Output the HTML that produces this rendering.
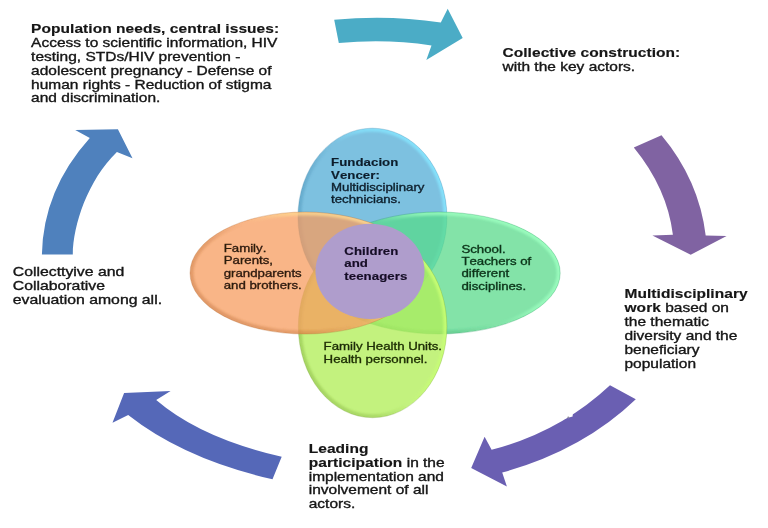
<!DOCTYPE html>
<html lang="en">
<head>
<meta charset="utf-8">
<title>Collective construction cycle</title>
<style>
html,body{margin:0;padding:0;background:#fff;}
body{width:768px;height:528px;overflow:hidden;position:relative;font-family:"Liberation Sans",sans-serif;}
svg{position:absolute;left:0;top:0;display:block;}
text{font-family:"Liberation Sans",sans-serif;fill:inherit;stroke:inherit;stroke-width:0.32px;paint-order:stroke;font-kerning:none;}
.b{font-weight:bold;stroke-width:0.15px;letter-spacing:0.04px;}
.o{font-size:12.0px;}
.i{font-size:10.27px;}
</style>
</head>
<body>
<svg width="768" height="528" viewBox="0 0 768 528">
<rect width="768" height="528" fill="#ffffff"/>
<defs>
<filter id="tb" x="0" y="0" width="100%" height="100%" filterUnits="userSpaceOnUse"><feGaussianBlur stdDeviation="0.45"/></filter>
<filter id="ab" x="0" y="0" width="100%" height="100%" filterUnits="userSpaceOnUse"><feGaussianBlur stdDeviation="0.4"/></filter>
<filter id="bl" x="-10%" y="-10%" width="120%" height="120%"><feGaussianBlur stdDeviation="1.2"/></filter>
<linearGradient id="gB" x1="1" y1="0.2" x2="0" y2="0.8"><stop offset="0" stop-color="#86e6ff" stop-opacity="0.9"/><stop offset="0.34" stop-color="#86e6ff" stop-opacity="0.7"/><stop offset="0.5" stop-color="#86e6ff" stop-opacity="0"/><stop offset="0.52" stop-color="#3f86ad" stop-opacity="0"/><stop offset="0.7" stop-color="#3f86ad" stop-opacity="0.3"/><stop offset="1" stop-color="#3f86ad" stop-opacity="0.4"/></linearGradient>
<clipPath id="cB"><ellipse cx="372.4" cy="217" rx="74.5" ry="88.8"/></clipPath>
<linearGradient id="gG" x1="1" y1="0.2" x2="0" y2="0.8"><stop offset="0" stop-color="#9dffc0" stop-opacity="0.9"/><stop offset="0.34" stop-color="#9dffc0" stop-opacity="0.7"/><stop offset="0.5" stop-color="#9dffc0" stop-opacity="0"/><stop offset="0.52" stop-color="#2a9c60" stop-opacity="0"/><stop offset="0.7" stop-color="#2a9c60" stop-opacity="0.3"/><stop offset="1" stop-color="#2a9c60" stop-opacity="0.4"/></linearGradient>
<clipPath id="cG"><ellipse cx="438.5" cy="273" rx="121.7" ry="61"/></clipPath>
<linearGradient id="gL" x1="1" y1="0.2" x2="0" y2="0.8"><stop offset="0" stop-color="#c8ff74" stop-opacity="0.9"/><stop offset="0.34" stop-color="#c8ff74" stop-opacity="0.7"/><stop offset="0.5" stop-color="#c8ff74" stop-opacity="0"/><stop offset="0.52" stop-color="#76a634" stop-opacity="0"/><stop offset="0.7" stop-color="#76a634" stop-opacity="0.3"/><stop offset="1" stop-color="#76a634" stop-opacity="0.4"/></linearGradient>
<clipPath id="cL"><ellipse cx="372.6" cy="326.5" rx="74.3" ry="91.2"/></clipPath>
<linearGradient id="gO" x1="1" y1="0.2" x2="0" y2="0.8"><stop offset="0" stop-color="#ffd890" stop-opacity="0.9"/><stop offset="0.34" stop-color="#ffd890" stop-opacity="0.7"/><stop offset="0.5" stop-color="#ffd890" stop-opacity="0"/><stop offset="0.52" stop-color="#b96a30" stop-opacity="0"/><stop offset="0.7" stop-color="#b96a30" stop-opacity="0.3"/><stop offset="1" stop-color="#b96a30" stop-opacity="0.4"/></linearGradient>
<clipPath id="cO"><ellipse cx="305.1" cy="273.0" rx="115.1" ry="61.0"/></clipPath>
</defs>

<!-- cycle arrows -->
<g id="arrows" filter="url(#ab)">
<path fill="#4bacc6" d="M334.2 19.8 Q388 14.5 440.8 22.5 L447.7 8.8 L462.7 38.1 L426.3 60 L431.5 45.4 Q385 38.5 338.8 43.1 Z"/>
<path fill="#8064a2" d="M633.8 147.5 L661.5 135.2 Q699 180 705.7 235.6 L726.6 236 L690.7 254.8 L652.4 235.6 L672.9 234.7 Q667 188 633.8 147.5 Z"/>
<path fill="#6a5fb2" d="M610 385.2 L635.8 399.2 Q583 450 502.2 472.6 L506.9 486.6 L471.2 467.9 L484.6 436.7 L491.6 449.8 Q560 432 610 385.2 Z"/>
<path fill="#5568b8" d="M281.7 456.8 L272.5 479.3 Q184 459 128.2 415 L112.5 422.8 L124.1 393 L170.6 390.9 L156.2 400.1 Q201 438.5 281.7 456.8 Z"/>
<path fill="#4f81bd" d="M41.9 254.6 L72.8 254.6 C73 225 88 180 116.9 152.1 L132.5 158.3 L117.9 129.2 L75.2 130 L89.8 137.9 Q43 190 41.9 254.6 Z"/>
<path fill="#ffffff" d="M572.8 413.2 L572.6 416.4 L565.5 418.6 L563 419.2 Z"/>
<circle cx="568.3" cy="417.6" r="1" fill="#8c8aa0"/>
</g>

<!-- venn diagram -->
<g id="venn" filter="url(#ab)">
<g clip-path="url(#cB)">
<ellipse cx="372.4" cy="217" rx="74.5" ry="88.8" fill="#7dc1e0"/>
<ellipse cx="372.4" cy="217" rx="74.5" ry="88.8" fill="none" stroke="url(#gB)" stroke-width="7" filter="url(#bl)"/>
</g>
<ellipse cx="372.4" cy="217" rx="74.5" ry="88.8" fill="none" stroke="#3f86ad" stroke-opacity="0.35" stroke-width="0.9"/>
<g clip-path="url(#cG)">
<ellipse cx="438.5" cy="273" rx="121.7" ry="61" fill="#58da8b" fill-opacity="0.75"/>
<ellipse cx="438.5" cy="273" rx="121.7" ry="61" fill="none" stroke="url(#gG)" stroke-width="7" filter="url(#bl)"/>
</g>
<ellipse cx="438.5" cy="273" rx="121.7" ry="61" fill="none" stroke="#2a9c60" stroke-opacity="0.35" stroke-width="0.9"/>
<g clip-path="url(#cL)">
<ellipse cx="372.6" cy="326.5" rx="74.3" ry="91.2" fill="#b2ee5a" fill-opacity="0.78"/>
<ellipse cx="372.6" cy="326.5" rx="74.3" ry="91.2" fill="none" stroke="url(#gL)" stroke-width="7" filter="url(#bl)"/>
</g>
<ellipse cx="372.6" cy="326.5" rx="74.3" ry="91.2" fill="none" stroke="#76a634" stroke-opacity="0.35" stroke-width="0.9"/>
<g clip-path="url(#cO)">
<ellipse cx="305.1" cy="273.0" rx="115.1" ry="61.0" fill="#f79c5f" fill-opacity="0.75"/>
<ellipse cx="305.1" cy="273.0" rx="115.1" ry="61.0" fill="none" stroke="url(#gO)" stroke-width="7" filter="url(#bl)"/>
</g>
<ellipse cx="305.1" cy="273.0" rx="115.1" ry="61.0" fill="none" stroke="#b96a30" stroke-opacity="0.35" stroke-width="0.9"/>
<ellipse cx="370" cy="271.3" rx="54.5" ry="47.6" fill="#af9dcc"/>
</g>

<!-- labels -->
<g id="labels" filter="url(#tb)" fill="#141414" stroke="#141414">
<g transform="translate(31.1 0) scale(1.292 1)">
<text x="0" y="33.3" class="o"><tspan class="b">Population needs, central issues:</tspan></text>
<text x="0" y="47.1" class="o">Access to scientific information, HIV</text>
<text x="0" y="60.9" class="o">testing, STDs/HIV prevention -</text>
<text x="0" y="75.0" class="o">adolescent pregnancy - Defense of</text>
<text x="0" y="88.6" class="o">human rights - Reduction of stigma</text>
<text x="0" y="102.3" class="o">and discrimination.</text>
</g>
<g transform="translate(502.5 0) scale(1.292 1)">
<text x="0" y="57.0" class="o"><tspan class="b">Collective construction:</tspan></text>
<text x="0" y="71.1" class="o">with the key actors.</text>
</g>
<g transform="translate(624.5 0) scale(1.292 1)">
<text x="0" y="298.3" class="o"><tspan class="b">Multidisciplinary</tspan></text>
<text x="0" y="312.4" class="o"><tspan class="b">work</tspan> based on</text>
<text x="0" y="326.2" class="o">the thematic</text>
<text x="0" y="340.1" class="o">diversity and the</text>
<text x="0" y="353.9" class="o">beneficiary</text>
<text x="0" y="367.6" class="o">population</text>
</g>
<g transform="translate(308.7 0) scale(1.292 1)">
<text x="0" y="452.7" class="o"><tspan class="b">Leading</tspan></text>
<text x="0" y="466.8" class="o"><tspan class="b">participation</tspan> in the</text>
<text x="0" y="481.1" class="o">implementation and</text>
<text x="0" y="494.4" class="o">involvement of all</text>
<text x="0" y="508" class="o">actors.</text>
</g>
<g transform="translate(12.8 0) scale(1.3178400000000001 1)">
<text x="0" y="276.5" class="o">Collecttyive and</text>
<text x="0" y="290.4" class="o">Collaborative</text>
<text x="0" y="304.5" class="o">evaluation among all.</text>
</g>
<g transform="translate(331 0) scale(1.29 1)" style="fill:#0b1d2b;stroke:#0b1d2b">
<text x="0" y="166.0" class="i"><tspan class="b">Fundacion</tspan></text>
<text x="0" y="178.6" class="i"><tspan class="b">Vencer:</tspan></text>
<text x="0" y="190.7" class="i">Multidisciplinary</text>
<text x="0" y="203.1" class="i">technicians.</text>
</g>
<g transform="translate(223.7 0) scale(1.29 1)" style="fill:#2c1a0c;stroke:#2c1a0c">
<text x="0" y="252.1" class="i">Family.</text>
<text x="0" y="264.5" class="i">Parents,</text>
<text x="0" y="276.8" class="i">grandparents</text>
<text x="0" y="289.2" class="i">and brothers.</text>
</g>
<g transform="translate(344.3 0) scale(1.29 1)" style="fill:#150c26;stroke:#150c26">
<text x="0" y="254.7" class="i"><tspan class="b">Children</tspan></text>
<text x="0" y="266.9" class="i"><tspan class="b">and</tspan></text>
<text x="0" y="279.7" class="i"><tspan class="b">teenagers</tspan></text>
</g>
<g transform="translate(461.4 0) scale(1.29 1)" style="fill:#0a3319;stroke:#0a3319">
<text x="0" y="252.9" class="i">School.</text>
<text x="0" y="265.3" class="i">Teachers of</text>
<text x="0" y="277.5" class="i">different</text>
<text x="0" y="289.9" class="i">disciplines.</text>
</g>
<g transform="translate(323.6 0) scale(1.29 1)" style="fill:#1c2c07;stroke:#1c2c07">
<text x="0" y="349.9" class="i">Family Health Units.</text>
<text x="0" y="362.9" class="i">Health personnel.</text>
</g>
</g>
</svg>
</body>
</html>
